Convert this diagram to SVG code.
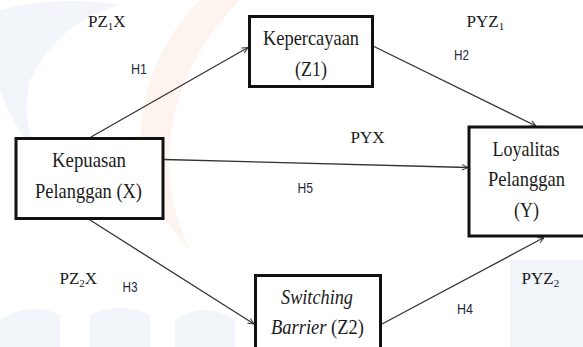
<svg xmlns="http://www.w3.org/2000/svg" width="583" height="347" viewBox="0 0 583 347">
  <style>
    .box { fill: #ffffff; stroke: #111111; stroke-width: 3; }
    .nt { font-family: "Liberation Serif", "Times New Roman", serif; font-size: 21px; fill: #1a1a1a; text-anchor: start; }
    .it { font-style: italic; }
    .pl { font-family: "Liberation Serif", "Times New Roman", serif; font-size: 17px; fill: #1a1a1a; }
    .sub { font-size: 11px; }
    .h { font-family: "Liberation Sans", Arial, sans-serif; font-size: 14px; fill: #1f2a3c; }
    .edge { stroke: #333333; stroke-width: 1.3; fill: none; marker-end: url(#arr); }
    .wm1 { fill: #fdf4f0; }
    .wm2 { fill: #f2f5fa; }
  </style>
  <defs>
    <marker id="arr" viewBox="0 0 10 10" refX="9.5" refY="5" markerWidth="7" markerHeight="7" markerUnits="userSpaceOnUse" orient="auto">
      <path d="M1,1 L9.5,5 L1,9" fill="none" stroke="#333333" stroke-width="1.4"/>
    </marker>
  </defs>
  <rect width="583" height="347" fill="#ffffff"/>
  <g id="watermark">
    <path class="wm2" d="M0,10 Q60,-5 120,5 Q60,20 30,80 Q20,120 40,160 Q10,120 0,90 Z"/>
    <path class="wm1" d="M200,0 L240,0 Q180,60 170,140 Q165,200 190,250 Q150,210 140,150 Q140,60 200,0 Z"/>
    <rect class="wm2" x="510" y="260" width="73" height="87"/>
    <path class="wm2" d="M0,320 Q30,300 60,315 L60,347 L0,347 Z"/>
    <path class="wm2" d="M90,315 Q120,300 150,315 L150,347 L90,347 Z"/>
    <path class="wm2" d="M175,320 Q205,300 235,320 L235,347 L175,347 Z"/>
  </g>
  <g id="connectors">
    <line class="edge" x1="91" y1="137" x2="248" y2="47.5"/>
    <line class="edge" x1="374" y1="46.5" x2="536" y2="126"/>
    <line class="edge" x1="164" y1="159.5" x2="468" y2="167.5"/>
    <line class="edge" x1="90" y1="220" x2="254" y2="324"/>
    <line class="edge" x1="382" y1="324" x2="544" y2="237.5"/>
  </g>
  <g id="node-x">
    <rect class="box" x="16" y="138.5" width="147" height="80"/>
    <text class="nt" x="52" y="167" textLength="74" lengthAdjust="spacingAndGlyphs">Kepuasan</text>
    <text class="nt" x="35" y="197.5" textLength="107" lengthAdjust="spacingAndGlyphs">Pelanggan (X)</text>
  </g>
  <g id="node-z1">
    <rect class="box" x="249.5" y="16.5" width="123" height="70"/>
    <text class="nt" x="263" y="45" textLength="96" lengthAdjust="spacingAndGlyphs">Kepercayaan</text>
    <text class="nt" x="295" y="75.5" textLength="32" lengthAdjust="spacingAndGlyphs">(Z1)</text>
  </g>
  <g id="node-y">
    <rect class="box" x="469" y="127" width="130" height="109"/>
    <text class="nt" x="492.5" y="156" textLength="67" lengthAdjust="spacingAndGlyphs">Loyalitas</text>
    <text class="nt" x="488" y="186" textLength="77" lengthAdjust="spacingAndGlyphs">Pelanggan</text>
    <text class="nt" x="514" y="216.5" textLength="25" lengthAdjust="spacingAndGlyphs">(Y)</text>
  </g>
  <g id="node-z2">
    <rect class="box" x="255.5" y="275.5" width="125" height="90"/>
    <text class="nt it" x="281" y="304" textLength="72" lengthAdjust="spacingAndGlyphs">Switching</text>
    <text class="nt" x="271" y="334" style="font-size:18.5px" transform="translate(0,334) scale(1,1.15) translate(0,-334)"><tspan class="it">Barrier</tspan> (Z2)</text>
  </g>
  <g id="labels">
    <text class="pl" x="88" y="26.5">PZ<tspan class="sub" dy="3">1</tspan><tspan dy="-3">X</tspan></text>
    <text class="pl" x="466.5" y="26.5">PYZ<tspan class="sub" dy="3">1</tspan></text>
    <text class="pl" x="350.5" y="142.5">PYX</text>
    <text class="pl" x="59.5" y="284">PZ<tspan class="sub" dy="3">2</tspan><tspan dy="-3">X</tspan></text>
    <text class="pl" x="521.5" y="284">PYZ<tspan class="sub" dy="3">2</tspan></text>
    <text class="h" x="131" y="74" textLength="16" lengthAdjust="spacingAndGlyphs">H1</text>
    <text class="h" x="454" y="60" textLength="15" lengthAdjust="spacingAndGlyphs">H2</text>
    <text class="h" x="297.5" y="192.5" textLength="15.5" lengthAdjust="spacingAndGlyphs">H5</text>
    <text class="h" x="122.5" y="292" textLength="15" lengthAdjust="spacingAndGlyphs">H3</text>
    <text class="h" x="457" y="314" textLength="16" lengthAdjust="spacingAndGlyphs">H4</text>
  </g>
</svg>
